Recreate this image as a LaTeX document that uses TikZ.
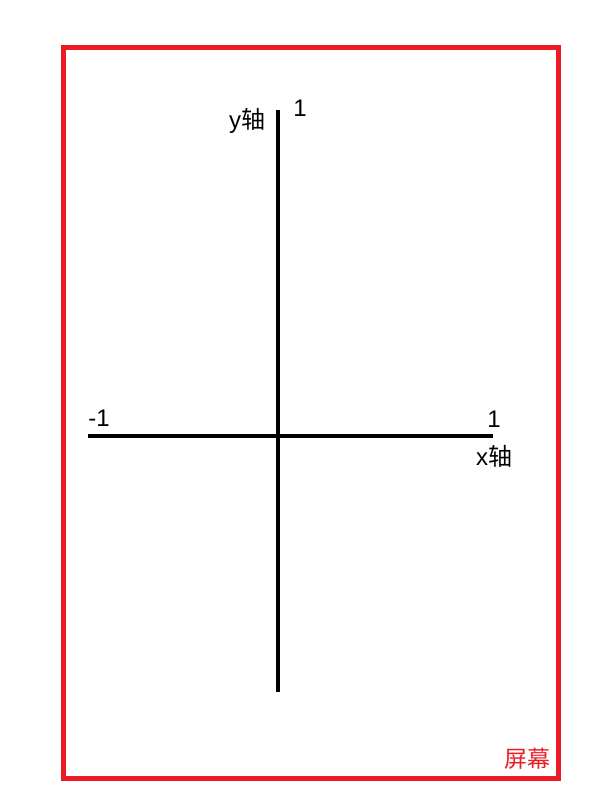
\documentclass[tikz,border=0pt]{standalone}
\usepackage{fontspec}
\setmainfont{Liberation Sans}
\newfontfamily\cjk{Noto Sans CJK SC}
\definecolor{screenred}{RGB}{237,28,36}
\tikzset{
  axisline/.style={line width=4.5pt, black},
  lbl/.style={inner sep=0pt, font=\fontsize{24}{28}\selectfont},
}
\begin{document}
\begin{tikzpicture}[x=1pt, y=-1pt]
  \useasboundingbox (0,0) rectangle (593,803);

  % Screen frame
  \draw[screenred, line width=5pt] (63.5,47.5) rectangle (558.5,778);
  \node[lbl, text=screenred, font=\cjk\fontsize{23}{26}\selectfont] (screen) at (527,759) {屏幕};

  % Points
  \coordinate (xl) at (88,436);
  \coordinate (xr) at (493,436);
  \coordinate (yt) at (278,110);
  \coordinate (yb) at (278,692);

  % Axes
  \draw[axisline] (xl) -- (xr);
  \draw[axisline] (yt) -- (yb);

  % Labels
  \node[lbl] (ylabel) at (247,121) {y{\cjk 轴}};
  \node[lbl] (ytop) at (300,108) {1};
  \node[lbl] (xleft) at (99,418) {-1};
  \node[lbl] (xright) at (494,419) {1};
  \node[lbl] (xlabel) at (494,456) {x{\cjk 轴}};
\end{tikzpicture}
\end{document}
